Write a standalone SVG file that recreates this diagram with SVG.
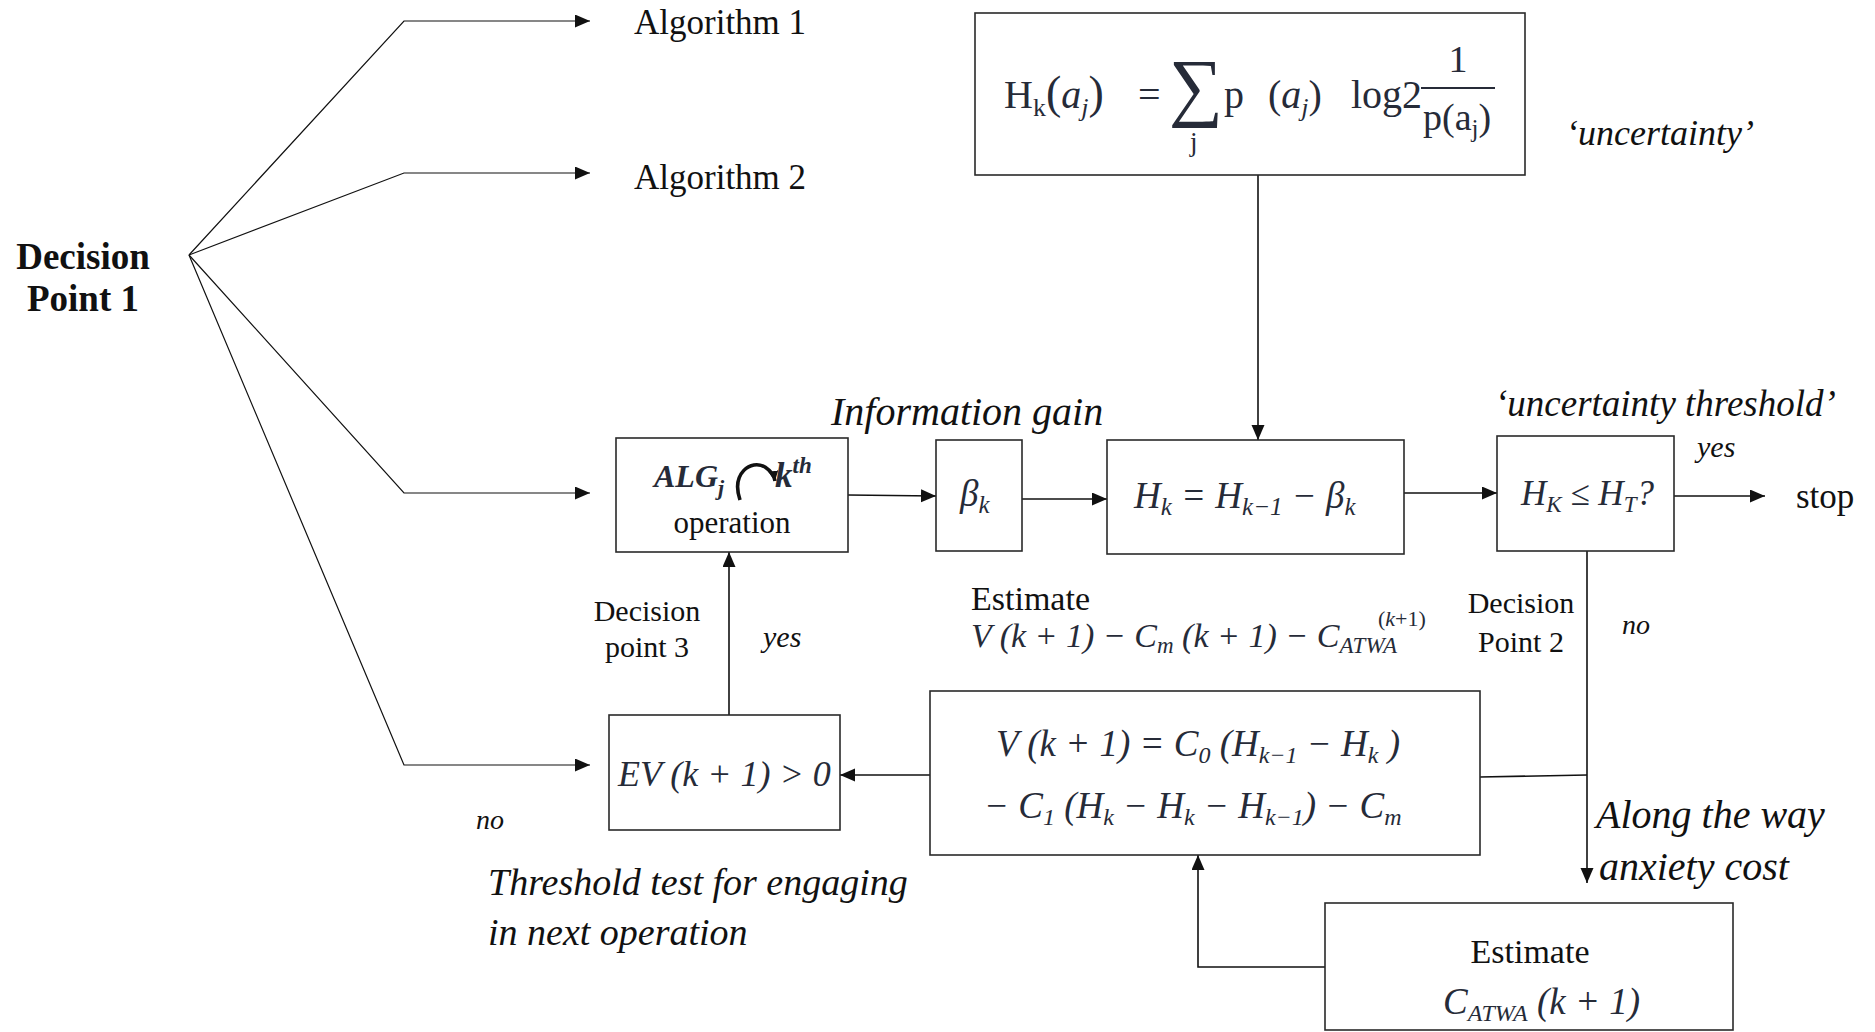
<svg xmlns="http://www.w3.org/2000/svg" width="1875" height="1032" viewBox="0 0 1875 1032">
<style>
.box{fill:#fff;stroke:#2a2a2a;stroke-width:1.6}
.ln{fill:none;stroke:#111;stroke-width:1.6}
.fan{fill:none;stroke:#111;stroke-width:1.2}
.t{font-family:"Liberation Serif",serif;fill:#111}
.i{font-family:"Liberation Serif",serif;font-style:italic;fill:#111}
.m{font-family:"Liberation Serif",serif;font-style:italic;fill:#262b38}
.u{font-family:"Liberation Serif",serif;fill:#262b38}
</style>
<defs>
<marker id="ah" markerUnits="userSpaceOnUse" markerWidth="16" markerHeight="14" refX="15" refY="6.5" orient="auto">
<path d="M0,0 L15,6.5 L0,13 z" fill="#111"/>
</marker>
<marker id="ahs" markerUnits="userSpaceOnUse" markerWidth="12" markerHeight="12" refX="10" refY="5" orient="auto">
<path d="M0,0 L10,5 L0,10 z" fill="#111"/>
</marker>
</defs>

<g id="connectors">
<polyline class="fan" points="189,255 404,21 590,21" marker-end="url(#ah)"/>
<polyline class="fan" points="189,255 404,173 590,173" marker-end="url(#ah)"/>
<polyline class="fan" points="189,255 404,493 590,493" marker-end="url(#ah)"/>
<polyline class="fan" points="189,255 404,765 590,765" marker-end="url(#ah)"/>
<line class="ln" x1="1258" y1="175" x2="1258" y2="440" marker-end="url(#ah)"/>
<line class="ln" x1="848" y1="495" x2="936" y2="496" marker-end="url(#ah)"/>
<line class="ln" x1="1022" y1="499" x2="1107" y2="499" marker-end="url(#ah)"/>
<line class="ln" x1="1404" y1="493" x2="1497" y2="493" marker-end="url(#ah)"/>
<line class="ln" x1="1674" y1="496" x2="1765" y2="496" marker-end="url(#ah)"/>
<line class="ln" x1="1587" y1="551" x2="1587" y2="883" marker-end="url(#ah)"/>
<line class="ln" x1="1480" y1="777" x2="1587" y2="775"/>
<polyline class="ln" points="1325,967 1198,967 1198,855" marker-end="url(#ah)"/>
<line class="ln" x1="930" y1="775" x2="840" y2="775" marker-end="url(#ah)"/>
<line class="ln" x1="729" y1="715" x2="729" y2="552" marker-end="url(#ah)"/>
</g>

<g id="decision-point-1">
<text class="t" font-size="37" font-weight="bold" text-anchor="middle" x="83" y="269">Decision</text>
<text class="t" font-size="37" font-weight="bold" text-anchor="middle" x="83" y="311">Point 1</text>
</g>

<g id="algorithm-1"><text class="t" font-size="35" x="634" y="34">Algorithm 1</text></g>
<g id="algorithm-2"><text class="t" font-size="35" x="634" y="189">Algorithm 2</text></g>

<g id="entropy-box">
<rect class="box" x="975" y="13" width="550" height="162"/>
<text class="u" font-size="40" x="1004" y="108">H<tspan font-size="26" dy="8">k</tspan><tspan dy="-8" font-size="46">(</tspan><tspan font-style="italic">a</tspan><tspan font-style="italic" font-size="26" dy="8">j</tspan><tspan dy="-8" font-size="46">)</tspan></text>
<text class="u" font-size="40" x="1138" y="108">=</text>
<text class="u" font-size="76" x="1169" y="112">∑</text>
<text class="u" font-size="27" x="1190" y="151">j</text>
<text class="u" font-size="40" x="1224" y="108">p</text>
<text class="u" font-size="40" x="1268" y="108">(<tspan font-style="italic">a</tspan><tspan font-style="italic" font-size="26" dy="8">j</tspan><tspan dy="-8">)</tspan></text>
<text class="u" font-size="40" x="1351" y="108">log2</text>
<line x1="1421" y1="88" x2="1495" y2="88" stroke="#262b38" stroke-width="2.2"/>
<text class="u" font-size="38" text-anchor="middle" x="1458" y="72">1</text>
<text class="u" font-size="38" x="1423" y="130">p(a<tspan font-size="25" dy="7">j</tspan><tspan dy="-7">)</tspan></text>
</g>

<g id="uncertainty-label"><text class="i" font-size="36" x="1566" y="145">‘uncertainty’</text></g>

<g id="alg-box">
<rect class="box" x="616" y="438" width="232" height="114"/>
<text class="m" font-size="32" font-weight="bold" x="654" y="487">ALG<tspan font-size="22" dy="8">j</tspan></text>
<path d="M740,500 C731,473 751,459 765,467 C771,471 774,475 775,481" fill="none" stroke="#111" stroke-width="3.6" marker-end="url(#ahs)"/>
<text class="m" font-size="35" font-weight="bold" x="775" y="487">k<tspan font-size="23" dy="-14">th</tspan></text>
<text class="t" font-size="31" text-anchor="middle" x="732" y="533">operation</text>
</g>

<g id="information-gain-label"><text class="i" font-size="40" x="831" y="425">Information gain</text></g>

<g id="beta-box">
<rect class="box" x="936" y="440" width="86" height="111"/>
<text class="m" font-size="37" x="960" y="506">β<tspan font-size="25" dy="7">k</tspan></text>
</g>

<g id="hk-box">
<rect class="box" x="1107" y="440" width="297" height="114"/>
<text class="m" font-size="37" x="1134" y="508">H<tspan font-size="25" dy="7">k</tspan><tspan dy="-7"> = H</tspan><tspan font-size="25" dy="7">k−1</tspan><tspan dy="-7"> −  β</tspan><tspan font-size="25" dy="7">k</tspan></text>
</g>

<g id="threshold-box">
<rect class="box" x="1497" y="436" width="177" height="115"/>
<text class="m" font-size="35" x="1521" y="505">H<tspan font-size="23" dy="7">K</tspan><tspan dy="-7" font-style="normal"> ≤ </tspan>H<tspan font-size="23" dy="7">T</tspan><tspan dy="-7">?</tspan></text>
</g>

<g id="uncertainty-threshold-label"><text class="i" font-size="37" x="1495" y="416">‘uncertainty threshold’</text></g>
<g id="yes-stop"><text class="i" font-size="30" x="1697" y="457">yes</text></g>
<g id="stop"><text class="t" font-size="35" x="1796" y="508">stop</text></g>

<g id="decision-point-2">
<text class="t" font-size="30" text-anchor="middle" x="1521" y="613">Decision</text>
<text class="t" font-size="30" text-anchor="middle" x="1521" y="652">Point 2</text>
</g>
<g id="no-dp2"><text class="i" font-size="28" x="1622" y="634">no</text></g>

<g id="along-label">
<text class="i" font-size="40" x="1596" y="828">Along the way</text>
<text class="i" font-size="40" x="1599" y="880">anxiety cost</text>
</g>

<g id="estimate-atwa-box">
<rect class="box" x="1325" y="903" width="408" height="127"/>
<text class="t" font-size="34" text-anchor="middle" x="1530" y="963">Estimate</text>
<text class="m" font-size="37" x="1443" y="1014">C<tspan font-size="24" dy="7">ATWA</tspan><tspan dy="-7"> (k + 1)</tspan></text>
</g>

<g id="value-box">
<rect class="box" x="930" y="691" width="550" height="164"/>
<text class="m" font-size="37" x="996" y="756">V (k + 1) =  C<tspan font-size="24" dy="7">0</tspan><tspan dy="-7"> (H</tspan><tspan font-size="24" dy="7">k−1</tspan><tspan dy="-7"> −  H</tspan><tspan font-size="24" dy="7">k</tspan><tspan dy="-7"> )</tspan></text>
<text class="m" font-size="37" x="984" y="818">− C<tspan font-size="24" dy="7">1</tspan><tspan dy="-7"> (H</tspan><tspan font-size="24" dy="7">k</tspan><tspan dy="-7"> −  H</tspan><tspan font-size="24" dy="7">k</tspan><tspan dy="-7"> −  H</tspan><tspan font-size="24" dy="7">k−1</tspan><tspan dy="-7">) −  C</tspan><tspan font-size="24" dy="7">m</tspan></text>
</g>

<g id="estimate-label">
<text class="t" font-size="34" x="971" y="610">Estimate</text>
<text class="m" font-size="34" x="971" y="647">V (k + 1) −  C<tspan font-size="23" dy="6">m</tspan><tspan dy="-6"> (k + 1) −  C</tspan><tspan font-size="23" dy="6">ATWA</tspan></text>
<text class="u" font-size="22" x="1378" y="626" fill="#5a2a1a">(<tspan font-style="italic">k</tspan>+1)</text>
</g>

<g id="ev-box">
<rect class="box" x="609" y="715" width="231" height="115"/>
<text class="m" font-size="36" x="618" y="786">EV (k + 1) &gt; 0</text>
</g>

<g id="decision-point-3">
<text class="t" font-size="30" text-anchor="middle" x="647" y="621">Decision</text>
<text class="t" font-size="30" text-anchor="middle" x="647" y="657">point 3</text>
</g>
<g id="yes-dp3"><text class="i" font-size="30" x="763" y="647">yes</text></g>
<g id="no-dp1"><text class="i" font-size="28" x="476" y="829">no</text></g>

<g id="threshold-test-label">
<text class="i" font-size="38" x="488" y="895">Threshold test for engaging</text>
<text class="i" font-size="38" x="488" y="945">in next operation</text>
</g>
</svg>
